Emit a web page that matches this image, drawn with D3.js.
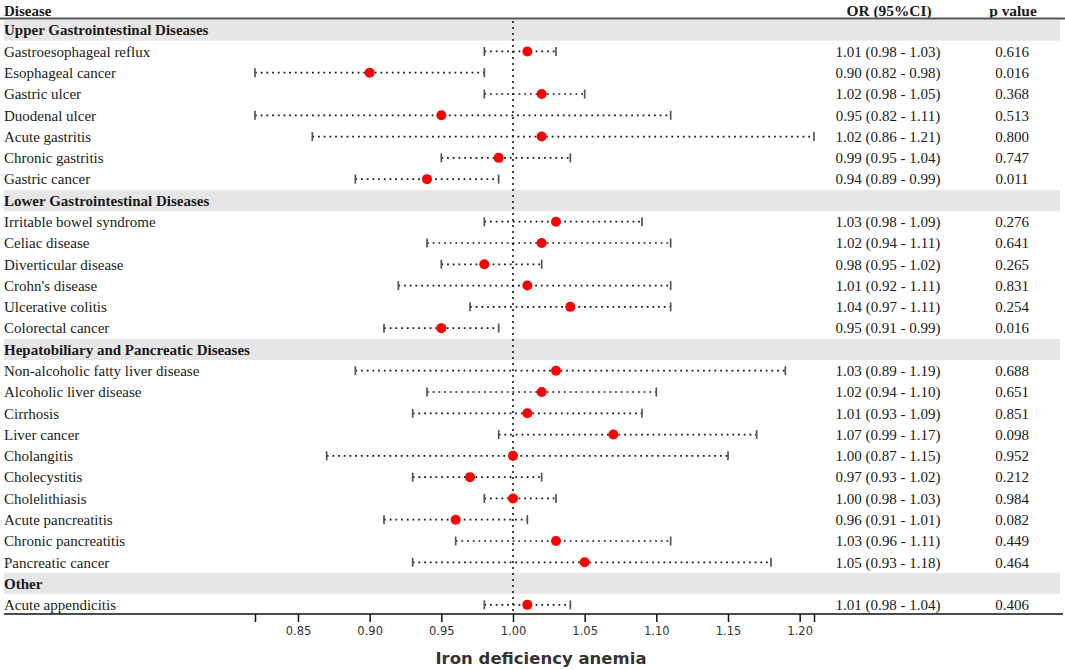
<!DOCTYPE html>
<html><head><meta charset="utf-8">
<script src="https://cdn.jsdelivr.net/npm/d3@7/dist/d3.min.js"></script>
<style>body{margin:0;background:#fff;}svg{display:block;}</style>
</head><body>
<svg id="chart" width="1065" height="670"></svg>
<script>
const groups = ["Upper Gastrointestinal Diseases","Lower Gastrointestinal Diseases","Hepatobiliary and Pancreatic Diseases","Other"];
const diseases = ["Gastroesophageal reflux","Esophageal cancer","Gastric ulcer","Duodenal ulcer","Acute gastritis","Chronic gastritis","Gastric cancer",
 "Irritable bowel syndrome","Celiac disease","Diverticular disease","Crohn's disease","Ulcerative colitis","Colorectal cancer",
 "Non-alcoholic fatty liver disease","Alcoholic liver disease","Cirrhosis","Liver cancer","Cholangitis","Cholecystitis","Cholelithiasis","Acute pancreatitis","Chronic pancreatitis","Pancreatic cancer",
 "Acute appendicitis"];
const groupIndex = [0,0,0,0,0,0,0, 1,1,1,1,1,1, 2,2,2,2,2,2,2,2,2,2, 3];
const orValues = [1.01,0.90,1.02,0.95,1.02,0.99,0.94, 1.03,1.02,0.98,1.01,1.04,0.95, 1.03,1.02,1.01,1.07,1.00,0.97,1.00,0.96,1.03,1.05, 1.01];
const lowerCI = [0.98,0.82,0.98,0.82,0.86,0.95,0.89, 0.98,0.94,0.95,0.92,0.97,0.91, 0.89,0.94,0.93,0.99,0.87,0.93,0.98,0.91,0.96,0.93, 0.98];
const upperCI = [1.03,0.98,1.05,1.11,1.21,1.04,0.99, 1.09,1.11,1.02,1.11,1.11,0.99, 1.19,1.10,1.09,1.17,1.15,1.02,1.03,1.01,1.11,1.18, 1.04];
const pValues = ["0.616","0.016","0.368","0.513","0.800","0.747","0.011", "0.276","0.641","0.265","0.831","0.254","0.016", "0.688","0.651","0.851","0.098","0.952","0.212","0.984","0.082","0.449","0.464", "0.406"];
const tickValues = [0.82,0.85,0.90,0.95,1.00,1.05,1.10,1.15,1.20,1.21];
const tickLabels = ["","0.85","0.90","0.95","1.00","1.05","1.10","1.15","1.20",""];

// build row list
const rows = [];
groups.forEach((g, gi) => {
  rows.push({type:"group", label:g});
  diseases.forEach((d, i) => {
    if (groupIndex[i] === gi) rows.push({type:"item", label:d, or:orValues[i], lo:lowerCI[i], hi:upperCI[i], p:pValues[i]});
  });
});

const svg = d3.select("#chart");
const W = 1065;
const serif = "'Liberation Serif','Times New Roman',serif";
const sans = "'DejaVu Sans',Verdana,sans-serif";

const x = d3.scaleLinear().domain([0.82, 1.21]).range([255, 814]);
const y = d3.scaleBand().domain(d3.range(rows.length)).range([19.5, 615.5]).paddingInner(0).paddingOuter(0);
const yc = i => y(i) + y.bandwidth()/2;
const axisY = 614;

// group bands
svg.selectAll("rect.band").data(rows.map((r,i)=>({r,i})).filter(d=>d.r.type==="group"))
  .enter().append("rect")
  .attr("x", 4).attr("width", 1056)
  .attr("y", d => yc(d.i) - 10.5).attr("height", 21)
  .attr("fill", "#e6e6e6");

// header
svg.append("text").attr("x", 4).attr("y", 15.5).text("Disease")
  .attr("font-family", serif).attr("font-weight", "bold").attr("font-size", 15).attr("fill", "#1a1a1a");
svg.append("text").attr("x", 889).attr("y", 15.5).attr("text-anchor","middle").text("OR (95%CI)")
  .attr("font-family", serif).attr("font-weight", "bold").attr("font-size", 15.4).attr("fill", "#1a1a1a");
svg.append("text").attr("x", 1013).attr("y", 15.5).attr("text-anchor","middle").text("p value")
  .attr("font-family", serif).attr("font-weight", "bold").attr("font-size", 15.4).attr("fill", "#1a1a1a");
svg.append("line").attr("x1", 0).attr("x2", W).attr("y1", 18.5).attr("y2", 18.5)
  .attr("stroke", "#555").attr("stroke-width", 2);

// reference line
svg.append("line").attr("x1", x(1)).attr("x2", x(1)).attr("y1", 21).attr("y2", axisY)
  .attr("stroke", "#222").attr("stroke-width", 1.7).attr("stroke-dasharray", "2,4");

const rowSel = svg.selectAll("g.row").data(rows.map((r,i)=>({r,i}))).enter().append("g")
  .attr("transform", d => `translate(0,${yc(d.i)})`);

rowSel.append("text").attr("x", 4).attr("dy", "0.35em")
  .text(d => d.r.label)
  .attr("font-family", serif).attr("font-size", 15)
  .attr("font-weight", d => d.r.type==="group" ? "bold" : "normal")
  .attr("fill", "#1a1a1a");

const items = rowSel.filter(d => d.r.type === "item");
items.append("line")
  .attr("x1", d => x(d.r.lo)).attr("x2", d => x(d.r.hi))
  .attr("stroke", "#1a1a1a").attr("stroke-width", 1.7).attr("stroke-dasharray", "1.8,3.9");
items.append("line").attr("x1", d => x(d.r.lo)).attr("x2", d => x(d.r.lo)).attr("y1", -4.5).attr("y2", 4.5)
  .attr("stroke", "#555").attr("stroke-width", 1.7);
items.append("line").attr("x1", d => x(d.r.hi)).attr("x2", d => x(d.r.hi)).attr("y1", -4.5).attr("y2", 4.5)
  .attr("stroke", "#555").attr("stroke-width", 1.7);
items.append("circle").attr("cx", d => x(d.r.or)).attr("r", 5).attr("fill", "#ff0000");

items.append("text").attr("x", 888).attr("dy", "0.35em").attr("text-anchor", "middle")
  .text(d => `${d.r.or.toFixed(2)} (${d.r.lo.toFixed(2)} - ${d.r.hi.toFixed(2)})`)
  .attr("font-family", serif).attr("font-size", 15).attr("fill", "#1a1a1a");
items.append("text").attr("x", 1012).attr("dy", "0.35em").attr("text-anchor", "middle")
  .text(d => d.r.p)
  .attr("font-family", serif).attr("font-size", 15).attr("fill", "#1a1a1a");

// axis
svg.append("line").attr("x1", 4).attr("x2", 1063).attr("y1", axisY).attr("y2", axisY)
  .attr("stroke", "#111").attr("stroke-width", 1.5);
const axis = d3.axisBottom(x).tickValues(tickValues).tickSize(8).tickPadding(5)
  .tickFormat((d, i) => tickLabels[i]);
const ag = svg.append("g").attr("transform", `translate(0,${axisY})`).call(axis);
ag.select(".domain").remove();
ag.selectAll(".tick line").attr("stroke", "#111").attr("stroke-width", 1.5);
ag.selectAll(".tick text").attr("font-family", sans).attr("font-size", 11.5).attr("fill", "#333");

svg.append("text").attr("x", 541).attr("y", 664).attr("text-anchor", "middle")
  .text("Iron deficiency anemia")
  .attr("font-family", sans).attr("font-weight", "bold").attr("font-size", 16.5).attr("fill", "#333");
</script>
</body></html>
